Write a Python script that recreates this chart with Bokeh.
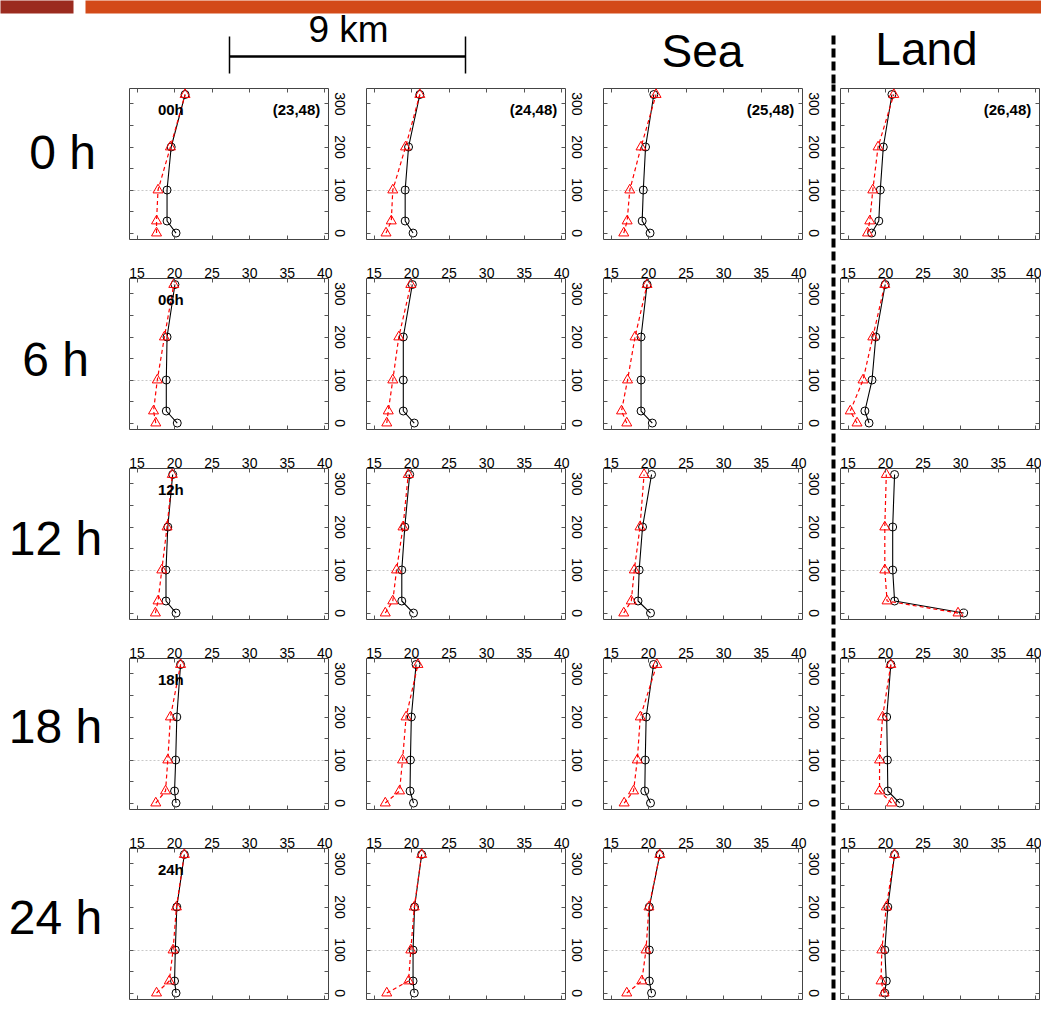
from bokeh.plotting import figure
from bokeh.layouts import row, column
from bokeh.models import Range1d, LinearAxis, FixedTicker, Label, Grid
from bokeh.embed import file_html
from bokeh.resources import INLINE

# ---------------- data ----------------
heights = [0, 28, 100, 200, 322]          # vertical levels (y)
x_ticks = [15, 20, 25, 30, 35, 40]
y_ticks = [0, 100, 200, 300]
y_minor = [50, 150, 250]
row_labels = ["0 h", "6 h", "12 h", "18 h", "24 h"]
hour_tags = ["00h", "06h", "12h", "18h", "24h"]
stations = ["(23,48)", "(24,48)", "(25,48)", "(26,48)"]
header_texts = ["9 km", "Sea", "Land"]

# black solid line with circles, one list per column (station), values at `heights`
black_00h = [[20.2, 19.0, 19.0, 19.55, 21.4], [20.2, 19.15, 19.15, 19.6, 21.1],
             [20.2, 19.15, 19.3, 19.6, 20.7], [18.15, 19.1, 19.3, 19.7, 20.85]]
red_00h = [[17.6, 17.6, 17.8, 19.45, 21.4], [16.6, 17.3, 17.5, 19.2, 21.1],
           [16.7, 17.15, 17.5, 19.0, 21.0], [17.6, 17.9, 18.3, 19.0, 21.1]]
black_06h = [[20.36, 18.9, 18.9, 19.0, 20.05], [20.36, 18.9, 18.9, 18.9, 20.1],
             [20.5, 19.0, 19.0, 19.0, 19.8], [17.8, 17.25, 18.2, 18.7, 19.95]]
red_06h = [[17.5, 17.2, 17.7, 18.65, 19.9], [16.7, 16.9, 17.5, 18.3, 19.9],
           [17.1, 16.4, 17.2, 18.2, 19.8], [16.2, 15.3, 17.0, 18.3, 19.9]]
black_12h = [[20.2, 18.86, 18.86, 19.1, 19.75], [20.26, 18.7, 18.7, 19.1, 19.75],
             [20.26, 18.6, 18.75, 19.2, 20.4], [30.4, 21.2, 20.95, 20.95, 21.2]]
red_12h = [[17.45, 17.8, 18.3, 19.0, 19.7], [16.5, 17.5, 18.0, 18.86, 19.56],
           [16.7, 17.7, 18.1, 18.86, 19.4], [29.65, 20.2, 19.9, 19.9, 20.1]]
black_18h = [[20.2, 20.0, 20.15, 20.3, 20.8], [20.26, 19.8, 19.85, 19.97, 20.6],
             [20.26, 19.5, 19.56, 19.68, 20.67], [21.9, 20.3, 20.25, 20.15, 20.7]]
red_18h = [[17.5, 18.8, 19.1, 19.45, 20.8], [16.5, 18.4, 18.8, 19.27, 20.85],
           [16.75, 18.0, 18.5, 18.9, 21.1], [20.8, 19.2, 19.2, 19.6, 20.7]]
black_24h = [[20.2, 20.0, 20.1, 20.3, 21.3], [20.36, 20.2, 20.2, 20.4, 21.35],
             [20.4, 20.1, 20.1, 20.1, 21.5], [19.9, 20.1, 19.9, 20.3, 21.2]]
red_24h = [[17.6, 19.3, 19.8, 20.25, 21.3], [16.7, 19.6, 19.9, 20.36, 21.35],
           [17.1, 19.1, 19.66, 20.05, 21.5], [19.8, 19.4, 19.5, 20.1, 21.2]]

black_rows = [black_00h, black_06h, black_12h, black_18h, black_24h]
red_rows = [red_00h, red_06h, red_12h, red_18h, red_24h]

FONT = "Liberation Sans"
DARK = "#9b2b1f"
ORANGE = "#d34a19"
FRAME_W, FRAME_H = 199, 151
HEAD_H = 84


def axis(ticks, show_labels, standoff=0, vertical=False, minor=None):
    ax = LinearAxis(ticker=FixedTicker(ticks=ticks, minor_ticks=minor or []),
                    major_tick_in=4, major_tick_out=0,
                    minor_tick_in=4 if minor else 0, minor_tick_out=0,
                    axis_line_color=None,
                    major_tick_line_color="#555555",
                    minor_tick_line_color="#555555",
                    major_label_standoff=standoff,
                    major_label_text_font=FONT)
    if show_labels:
        ax.major_label_text_color = "black"
        ax.major_label_text_font_size = "14px"
    else:
        ax.major_label_text_color = None
        ax.major_label_text_font_size = "0px"
    if vertical:
        ax.major_label_orientation = "vertical"
    return ax


def panel(r, c):
    top = 4 if r == 0 else 24
    bottom = 1 if r == 4 else 15
    right = [35, 35, 27, 2][c]
    left = 3
    p = figure(width=left + FRAME_W + right, height=top + FRAME_H + bottom,
               x_range=Range1d(14.0, 40.5), y_range=Range1d(-15, 336),
               output_backend="svg", toolbar_location=None,
               x_axis_location=None, y_axis_location=None,
               min_border_left=left, min_border_right=right,
               min_border_top=top, min_border_bottom=bottom)
    p.xgrid.visible = False
    p.ygrid.visible = False
    p.outline_line_color = "#444444"
    p.outline_line_width = 1
    p.add_layout(axis(x_ticks, False), "below")
    p.add_layout(axis(x_ticks, r > 0, standoff=1), "above")
    p.add_layout(axis(y_ticks, False, minor=y_minor), "left")
    p.add_layout(axis(y_ticks, c < 3, standoff=6, vertical=True, minor=y_minor), "right")
    p.add_layout(Grid(dimension=1, ticker=FixedTicker(ticks=[100]),
                      grid_line_color="#c8c8c8", grid_line_dash="2 2", grid_line_width=1))

    bx = black_rows[r][c]
    rx = red_rows[r][c]
    p.line(bx, heights, line_color="black", line_width=1.1)
    p.scatter(bx, heights, marker="circle", size=8, line_color="black",
              fill_color=None, line_width=1)
    p.line(rx, heights, line_color="red", line_width=1.2, line_dash="4 3")
    p.scatter(rx, heights, marker="triangle", size=10, line_color="red",
              fill_color=None, line_width=1)

    if c == 0:
        p.add_layout(Label(x=19.5, y=288, text=hour_tags[r], text_font=FONT,
                           text_font_style="bold", text_font_size="15px",
                           text_color="black",
                           text_align="center", text_baseline="middle"))
    if r == 0:
        p.add_layout(Label(x=39.4, y=288, text=stations[c], text_font=FONT,
                           text_font_style="bold", text_font_size="15px",
                           text_color="black",
                           text_align="right", text_baseline="middle"))
    return p


def deco(w, h):
    p = figure(width=w, height=h, x_range=Range1d(0, w), y_range=Range1d(h, 0),
               output_backend="svg", toolbar_location=None, min_border=0,
               x_axis_location=None, y_axis_location=None)
    p.xgrid.visible = False
    p.ygrid.visible = False
    p.outline_line_color = None
    return p


def big_text(p, x, y, txt, size):
    p.add_layout(Label(x=x, y=y, text=txt, text_font=FONT, text_font_size=size,
                       text_color="black", text_align="center", text_baseline="middle"))


panels = [[panel(r, c) for c in range(4)] for r in range(5)]

# full-width header strip
hd = deco(1041, HEAD_H)
hd.quad(left=[-2], right=[73], top=[-2], bottom=[13], fill_color=DARK, line_color=None)
hd.quad(left=[85], right=[1043], top=[-2], bottom=[13], fill_color=ORANGE, line_color=None)
big_text(hd, 348, 29, header_texts[0], "37px")
hd.segment(x0=[229, 229, 465], y0=[56, 36, 36], x1=[465, 229, 465], y1=[56, 73, 73],
           line_color="black", line_width=[2.5, 1.5, 1.5])
big_text(hd, 702, 50, header_texts[1], "46px")
big_text(hd, 926, 48, header_texts[2], "46px")
hd.segment(x0=[833], y0=[35], x1=[833], y1=[HEAD_H + 2], line_color="black",
           line_width=4, line_dash="9 4")

# left label column
lab = deco(126, 1000 - HEAD_H)
label_pos = [(62, 152), (55, 359), (55, 538), (55, 726), (55, 917)]
for txt, (lx, ly) in zip(row_labels, label_pos):
    big_text(lab, lx, ly - HEAD_H, txt, "48px")

# dashed divider between sea and land
dv = deco(8, 1000 - HEAD_H)
dv.segment(x0=[4], y0=[-2], x1=[4], y1=[1000 - HEAD_H], line_color="black", line_width=4,
           line_dash="9 4")

mid = column(*[row(panels[r][0], panels[r][1], panels[r][2]) for r in range(5)])
right_block = column(*[panels[r][3] for r in range(5)])
layout = column(hd, row(lab, mid, dv, right_block))

open("out.html", "w").write(file_html(layout, INLINE))
